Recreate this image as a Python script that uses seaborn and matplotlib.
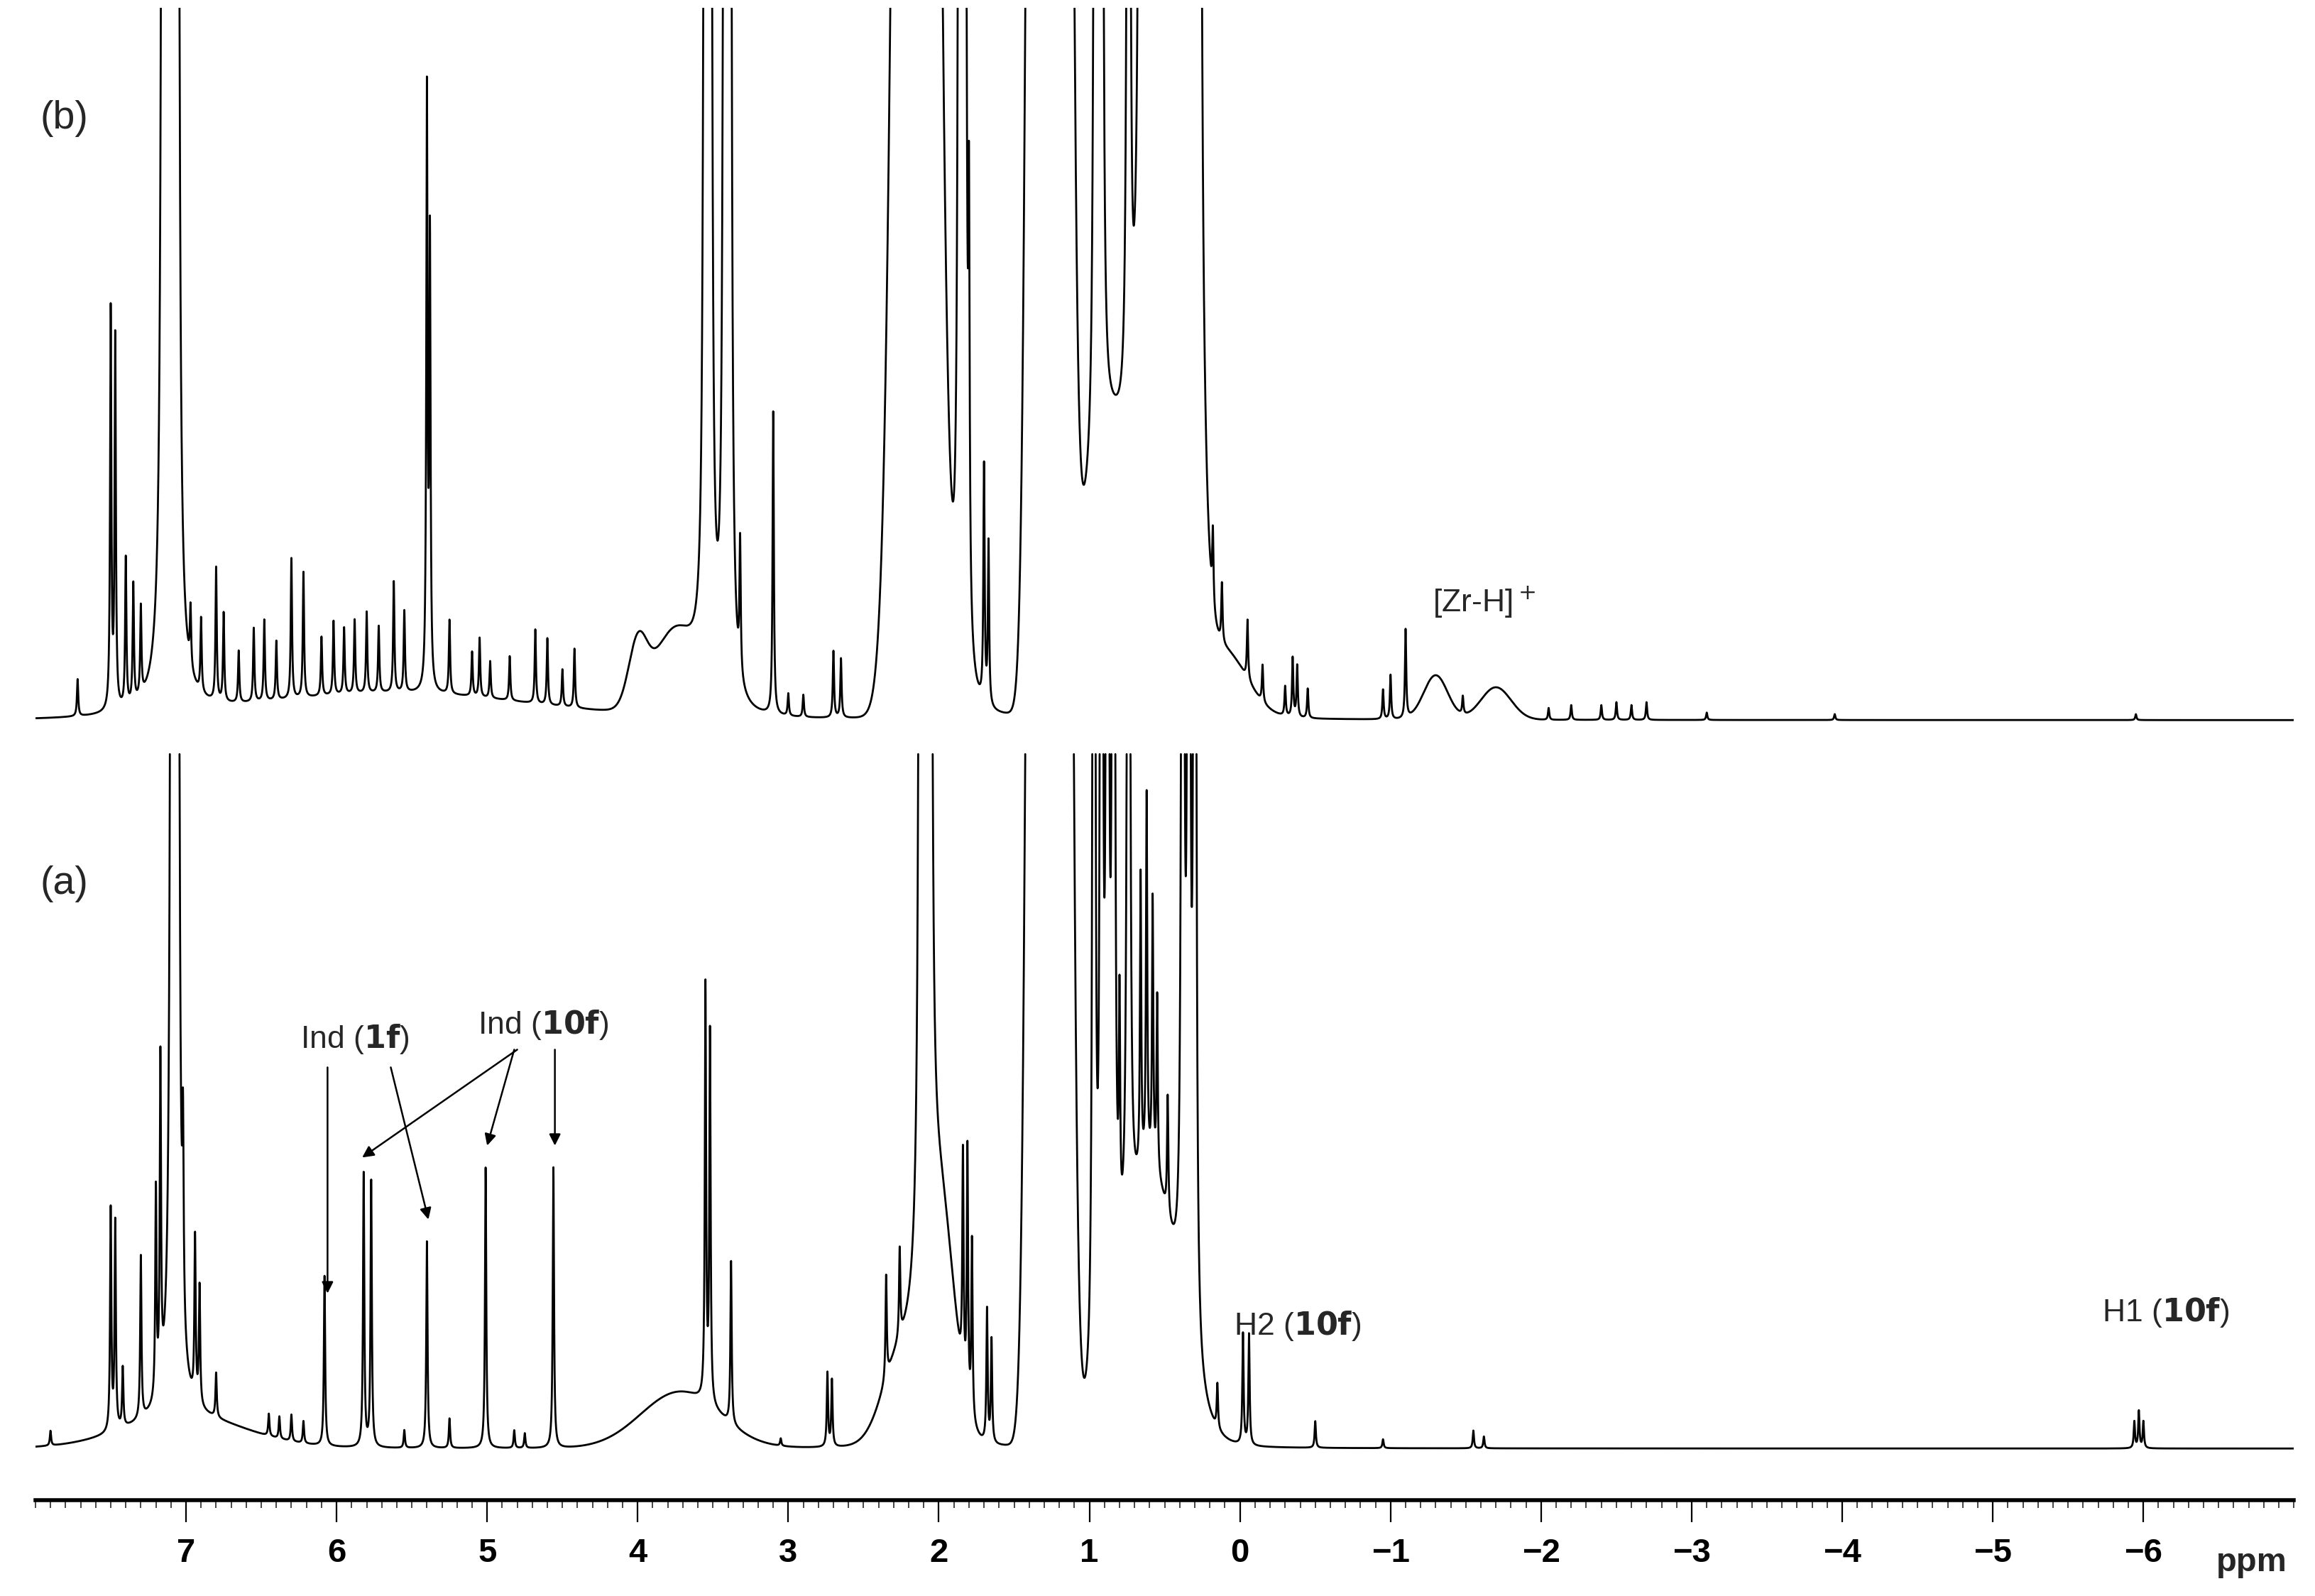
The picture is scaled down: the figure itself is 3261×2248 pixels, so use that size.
import numpy as np
import matplotlib
matplotlib.use("Agg")
import matplotlib.pyplot as plt
import seaborn as sns
import pandas as pd
from matplotlib.ticker import MultipleLocator

sns.set_theme(style="white")
plt.rcParams['font.family'] = ['Liberation Sans', 'DejaVu Sans']

# ---- spectrum (a): sharp lines (ppm, height, half-width) ----
a_ppm = [7.90, 7.50, 7.47, 7.42, 7.30, 7.20, 7.17, 7.09, 7.06, 7.02, 6.94, 6.91, 6.80,
         6.45, 6.38, 6.30, 6.22, 6.08, 5.82, 5.77, 5.55, 5.40, 5.25, 5.01, 4.82, 4.75, 4.56,
         3.55, 3.52, 3.38, 3.05, 2.74, 2.71, 2.35, 2.26, 2.12, 2.09, 2.06, 1.84, 1.81, 1.78,
         1.68, 1.65, 0.97, 0.92, 0.88, 0.84, 0.80, 0.74, 0.66, 0.62, 0.58, 0.55, 0.48,
         0.38, 0.34, 0.30, 0.15, -0.02, -0.06, -0.50, -0.95, -1.55, -1.62,
         -5.94, -5.97, -6.00]
a_height = [10, 150, 140, 40, 110, 140, 220, 5000, 5000, 120, 110, 80, 30,
            15, 15, 18, 15, 115, 185, 180, 12, 140, 20, 190, 12, 10, 190,
            280, 250, 110, 5, 50, 45, 70, 60, 4000, 4000, 4000, 150, 170, 120,
            90, 70, 2500, 2500, 2500, 2500, 150, 2500, 200, 250, 180, 120, 80,
            2500, 2500, 2500, 30, 75, 75, 18, 6, 12, 8,
            18, 25, 18]
a_width = [0.005] * len(a_ppm)
# broad components (ppm, height, sigma)
a_bppm = [3.72, 2.25, 2.0, 1.33, 1.20, 0.6, 7.0]
a_bheight = [38, 60, 160, 3000, 3000, 180, 20]
a_bsigma = [0.26, 0.12, 0.1, 0.05, 0.05, 0.18, 0.4]

# ---- spectrum (b) ----
b_ppm = [7.72, 7.50, 7.47, 7.40, 7.35, 7.30, 7.15, 7.12, 7.09, 7.06, 6.97, 6.90, 6.80, 6.75,
         6.65, 6.55, 6.48, 6.40, 6.30, 6.22, 6.10, 6.02, 5.95, 5.88, 5.80, 5.72, 5.62, 5.55,
         5.40, 5.38, 5.25, 5.10, 5.05, 4.98, 4.85, 4.68, 4.60, 4.50, 4.42,
         3.55, 3.52, 3.42, 3.39, 3.32, 3.10, 3.00, 2.90, 2.70, 2.65,
         2.03, 1.86, 1.83, 1.80, 1.70, 1.67, 0.96, 0.92, 0.74, 0.66, 0.60, 0.55, 0.50, 0.45,
         0.40, 0.35, 0.30, 0.27,
         0.18, 0.12, -0.05, -0.15, -0.30, -0.35, -0.38, -0.45, -0.95, -1.00, -1.10, -1.48,
         -2.05, -2.20, -2.40, -2.50, -2.60, -2.70, -3.10, -3.95, -5.95]
b_height = [25, 270, 250, 100, 80, 60, 5000, 5000, 5000, 5000, 40, 50, 90, 60,
            35, 50, 55, 40, 95, 85, 40, 50, 45, 50, 55, 45, 75, 55,
            400, 300, 50, 30, 40, 25, 30, 50, 45, 25, 40,
            4000, 4000, 4000, 4000, 90, 205, 15, 15, 45, 40,
            4000, 4000, 4000, 250, 160, 110, 3000, 3000, 3000, 3000, 3000, 3000, 3000, 3000,
            3000, 3000, 3000, 3000,
            50, 40, 40, 25, 20, 40, 35, 20, 20, 30, 60, 12,
            8, 10, 10, 12, 10, 12, 5, 4, 4]
b_width = [0.005] * len(b_ppm)
b_bppm = [5.6, 3.75, 4.0, 2.15, 1.33, 1.20, 0.85, 0.46, 0.1, -1.3, -1.7]
b_bheight = [18, 55, 40, 3000, 3000, 3000, 190, 3000, 40, 30, 22]
b_bsigma = [0.9, 0.15, 0.06, 0.09, 0.05, 0.05, 0.2, 0.09, 0.15, 0.08, 0.1]

x = np.linspace(8.0, -7.0, 40000)


def spectrum(ppm, h, w, bppm, bh, bs):
    y = np.zeros_like(x)
    for p, hh, ww in zip(ppm, h, w):
        y += hh * ww**2 / ((x - p) ** 2 + ww**2)
    for p, hh, s in zip(bppm, bh, bs):
        y += hh * np.exp(-(x - p) ** 2 / (2 * s**2))
    return y


def segments(y, top, name):
    # drop the interior of regions that run above the plotting top (peaks run off-scale)
    over = y > top
    inner = over & np.roll(over, 1) & np.roll(over, -1)
    yc = np.minimum(y, top)
    seg = np.cumsum(np.r_[0, np.diff(inner.astype(int)) != 0])
    keep = ~inner
    return pd.DataFrame({"ppm": x[keep], "I": yc[keep],
                         "s": [f"{name}{k}" for k in seg[keep]]})


base_a, top_a = 35, 505
base_b, top_b = 528, 1010
ya = base_a + spectrum(a_ppm, a_height, a_width, a_bppm, a_bheight, a_bsigma)
yb = base_b + spectrum(b_ppm, b_height, b_width, b_bppm, b_bheight, b_bsigma)
df = pd.concat([segments(ya, top_a, "a"), segments(yb, top_b, "b")], ignore_index=True)

fig = plt.figure(figsize=(16.31, 11.24), dpi=200)
ax = fig.add_axes([0.0153, 0.060, 0.9753, 0.935])
sns.lineplot(data=df, x="ppm", y="I", units="s", estimator=None, color="black",
             lw=1.0, ax=ax, sort=False)
ax.set_xlim(8.0, -7.0)
ax.set_ylim(0, 1010)
for s in ["top", "left", "right"]:
    ax.spines[s].set_visible(False)
ax.spines["bottom"].set_color("black")
ax.spines["bottom"].set_linewidth(2.0)
ax.set_yticks([])
ax.set_xlabel("")
ax.set_ylabel("")
ax.xaxis.set_minor_locator(MultipleLocator(0.1))
ax.set_xticks([7, 6, 5, 4, 3, 2, 1, 0, -1, -2, -3, -4, -5, -6])
ax.set_xticklabels(["7", "6", "5", "4", "3", "2", "1", "0", "\u22121", "\u22122", "\u22123",
                    "\u22124", "\u22125", "\u22126"], fontweight="bold")
ax.tick_params(axis="x", which="major", direction="out", length=11, width=0.8,
               bottom=True, labelsize=17, pad=8, colors="black")
ax.tick_params(axis="x", which="minor", direction="out", length=4, width=0.6, bottom=True)
ax.text(-6.72, -42, "ppm", fontsize=17, fontweight="bold", ha="center", va="center",
        clip_on=False)

ax.text(7.81, 935, "(b)", fontsize=20, ha="center", va="center")
ax.text(7.81, 417, "(a)", fontsize=20, ha="center", va="center")
ax.text(-1.62, 608, "[Zr-H]$^+$", fontsize=16, ha="center", va="center")
ax.text(-0.38, 118, "H2 ($\\mathbf{10f}$)", fontsize=16, ha="center", va="center")
ax.text(-6.15, 127, "H1 ($\\mathbf{10f}$)", fontsize=16, ha="center", va="center")
ax.text(5.88, 312, "Ind ($\\mathbf{1f}$)", fontsize=16, ha="center", va="center")
ax.text(4.63, 322, "Ind ($\\mathbf{10f}$)", fontsize=16, ha="center", va="center")

ap = dict(arrowstyle="-|>", color="black", lw=0.9, mutation_scale=12, shrinkA=0, shrinkB=0)
arrows = [((6.06, 293), (6.06, 140)), ((5.64, 293), (5.39, 190)),
          ((4.80, 305), (5.83, 232)), ((4.82, 305), (5.00, 240)), ((4.55, 305), (4.55, 240))]
for start, end in arrows:
    ax.annotate("", xy=end, xytext=start, arrowprops=ap)

fig.savefig("out.png", dpi=200, facecolor="white")
